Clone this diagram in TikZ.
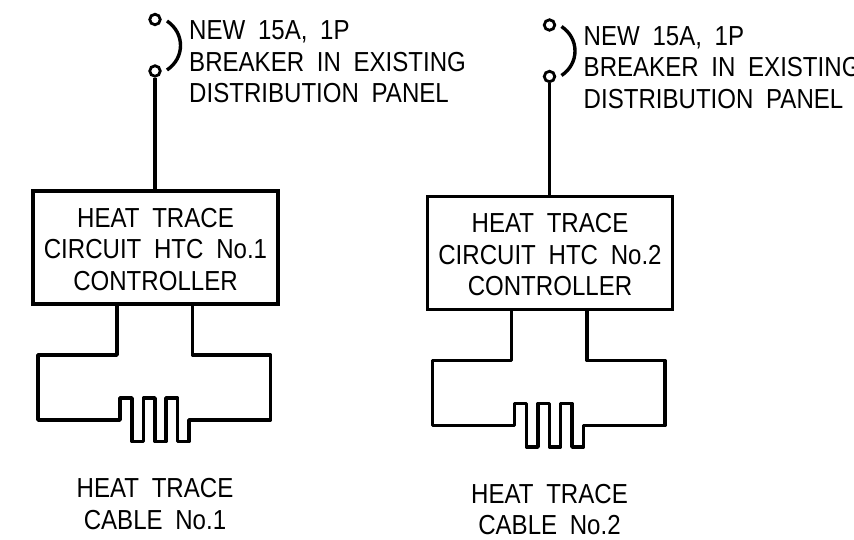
\documentclass[tikz,border=0pt]{standalone}
\usepackage{fontspec}
\setmainfont[FakeStretch=0.875,WordSpace=1.9]{Liberation Sans}
\tikzset{
  wire/.style={line width=3.4pt, line join=round},
  contact/.style={circle, draw, line width=2.8pt, fill=white, inner sep=0pt, minimum size=10.5pt},
  ctrlbox/.style={draw, line width=3.4pt, minimum width=245pt, minimum height=113pt, align=center, inner sep=0pt},
  lbl/.style={align=left, anchor=north west, inner sep=0pt},
  caplbl/.style={align=center, inner sep=0pt}
}
\begin{document}
\begin{tikzpicture}[x=1pt,y=-1pt,font=\fontsize{27.5}{31.5}\selectfont]
	\useasboundingbox (0,0) rectangle (854,540);
	\foreach \n/\dx/\dy in {1/0/0,2/394.5/5.5} {
		\begin{scope}[shift={(\dx,\dy)}]
			\node [ctrlbox] (box\n) at (155.5,247.5) {\rule{0pt}{23pt}HEAT TRACE\\CIRCUIT HTC No.\n\\CONTROLLER};
			\node [contact] (top\n) at (155,19.5) {};
			\node [contact] (bot\n) at (155,71) {};
			\coordinate (arcs\n) at (167,21);
			\coordinate (arce\n) at (167,70);
			\coordinate (wl\n) at (117,304);
			\coordinate (wr\n) at (192.5,304);
			\draw [wire] (bot\n) -- (box\n.north -| bot\n);
			\draw [wire] (arcs\n) .. controls (185,33) and (185,58) .. (arce\n);
			\draw [wire] (wl\n) -- (117,355) -- (38,355) -- (38,420) -- (120,420) -- (120,398) -- (132,398) -- (132,441.5) -- (143.5,441.5) -- (143.5,398) -- (155,398) -- (155,441.5) -- (166,441.5) -- (166,398) -- (177.5,398) -- (177.5,441.5) -- (189,441.5) -- (189,420) -- (270.5,420) -- (270.5,355) -- (192.5,355) -- (wr\n);
			\node [lbl] (note\n) at (189,20.5) {NEW 15A, 1P\\BREAKER IN EXISTING\\DISTRIBUTION PANEL};
			\node [caplbl] (cap\n) at (155,504) {HEAT TRACE\\CABLE No.\n};
		\end{scope}
	}
\end{tikzpicture}
\end{document}
